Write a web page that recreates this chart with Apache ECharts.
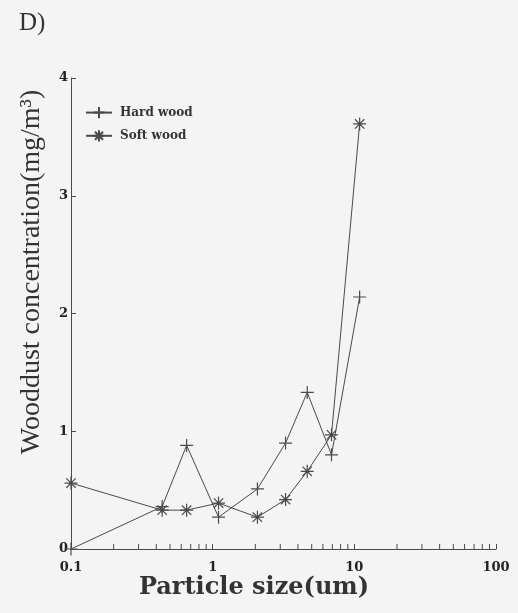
<!DOCTYPE html>
<html>
<head>
<meta charset="utf-8">
<script src="https://cdn.jsdelivr.net/npm/echarts@6/dist/echarts.min.js"></script>
<style>html,body{margin:0;padding:0;background:#f4f4f4;}#c{width:518px;height:613px;}</style>
</head>
<body>
<div id="c"></div>
<script>
// particle sizes (um)
const particleSize = [0.1, 0.44, 0.655, 1.1, 2.07, 3.27, 4.65, 6.9, 10.9];
// wood dust concentration (mg/m3)
const hardWood = [0.0, 0.36, 0.88, 0.27, 0.51, 0.90, 1.33, 0.80, 2.14];
const softWood = [0.56, 0.33, 0.33, 0.39, 0.27, 0.42, 0.66, 0.97, 3.61];
// minor tick positions on the log axis
const minorTicks = [0.2,0.3,0.4,0.5,0.6,0.7,0.8,0.9,2,3,4,5,6,7,8,9,20,30,40,50,60,70,80,90];
const xTickLabels = ['0.1', '1', '10', '100'];

const lineColor = '#4a4a4a';
const plus = 'path://M0,-1L0,1M-1,0L1,0';
const star = 'path://M0,-1L0,1M-1,0L1,0M-0.72,-0.72L0.72,0.72M-0.72,0.72L0.72,-0.72';

const chart = echarts.init(document.getElementById('c'), null, {renderer: 'canvas'});
chart.setOption({
  backgroundColor: '#f4f4f4',
  animation: false,
  title: {
    text: 'D)', left: 14, top: 6,
    textStyle: {fontFamily: 'Liberation Serif', fontWeight: 'normal', fontSize: 25, color: '#333'}
  },
  graphic: [{
    type: 'text', x: 32, y: 272, rotation: Math.PI / 2, silent: true,
    style: {
      text: 'Wooddust concentration(mg/m\u00B3)',
      fontFamily: 'Liberation Serif', fontSize: 28, fill: '#333',
      align: 'center', verticalAlign: 'middle'
    }
  }, {
    type: 'text', x: 254, y: 588, silent: true,
    style: {
      text: 'Particle size(um)',
      fontFamily: 'DejaVu Serif', fontWeight: 'bold', fontSize: 24, fill: '#333',
      align: 'center', verticalAlign: 'middle'
    }
  }],
  legend: {
    data: ['Hard wood', 'Soft wood'],
    orient: 'vertical', left: 80, top: 101,
    itemWidth: 26, itemHeight: 14, itemGap: 10,
    textStyle: {fontFamily: 'DejaVu Serif', fontWeight: 'bold', fontSize: 12, color: '#333', padding: [0,0,0,3]}
  },
  grid: {left: 71, right: 22, top: 78, bottom: 64},
  xAxis: {
    type: 'log', logBase: 10, min: 0.1, max: 100,
    axisLine: {show: true, lineStyle: {color: lineColor, width: 1}},
    axisTick: {show: true, inside: true, length: 5, lineStyle: {color: lineColor}},
    minorTick: {show: false},
    splitLine: {show: false},
    axisLabel: {
      margin: 12, fontFamily: 'DejaVu Serif', fontWeight: 'bold', fontSize: 13, color: '#222',
      formatter: function (v) {
        const idx = Math.round(Math.log10(v)) + 1;
        return xTickLabels[idx] !== undefined ? xTickLabels[idx] : String(v);
      }
    }
  },
  yAxis: {
    type: 'value', min: 0, max: 4, interval: 1,
    axisLine: {show: true, lineStyle: {color: lineColor, width: 1}},
    axisTick: {show: true, inside: true, length: 5, lineStyle: {color: lineColor}},
    splitLine: {show: false},
    axisLabel: {margin: 3, fontFamily: 'DejaVu Serif', fontWeight: 'bold', fontSize: 13, color: '#222'}
  },
  series: [
    {
      name: 'Hard wood', type: 'line',
      data: particleSize.map((x, i) => [x, hardWood[i]]),
      symbol: plus, symbolSize: 13,
      lineStyle: {color: lineColor, width: 1},
      itemStyle: {color: 'rgba(0,0,0,0)', borderColor: lineColor, borderWidth: 1.2},
      emphasis: {disabled: true}
    },
    {
      name: 'Soft wood', type: 'line',
      data: particleSize.map((x, i) => [x, softWood[i]]),
      symbol: star, symbolSize: 13,
      lineStyle: {color: lineColor, width: 1},
      itemStyle: {color: 'rgba(0,0,0,0)', borderColor: lineColor, borderWidth: 1.2},
      emphasis: {disabled: true}
    },
    {
      name: 'minorTicks', type: 'custom', silent: true,
      data: minorTicks.map(v => [v, 0]),
      renderItem: function (params, api) {
        const p = api.coord([api.value(0), api.value(1)]);
        return {
          type: 'line',
          shape: {x1: p[0], y1: p[1], x2: p[0], y2: p[1] - 5},
          style: {stroke: lineColor, lineWidth: 1}
        };
      }
    }
  ]
});
</script>
</body>
</html>
